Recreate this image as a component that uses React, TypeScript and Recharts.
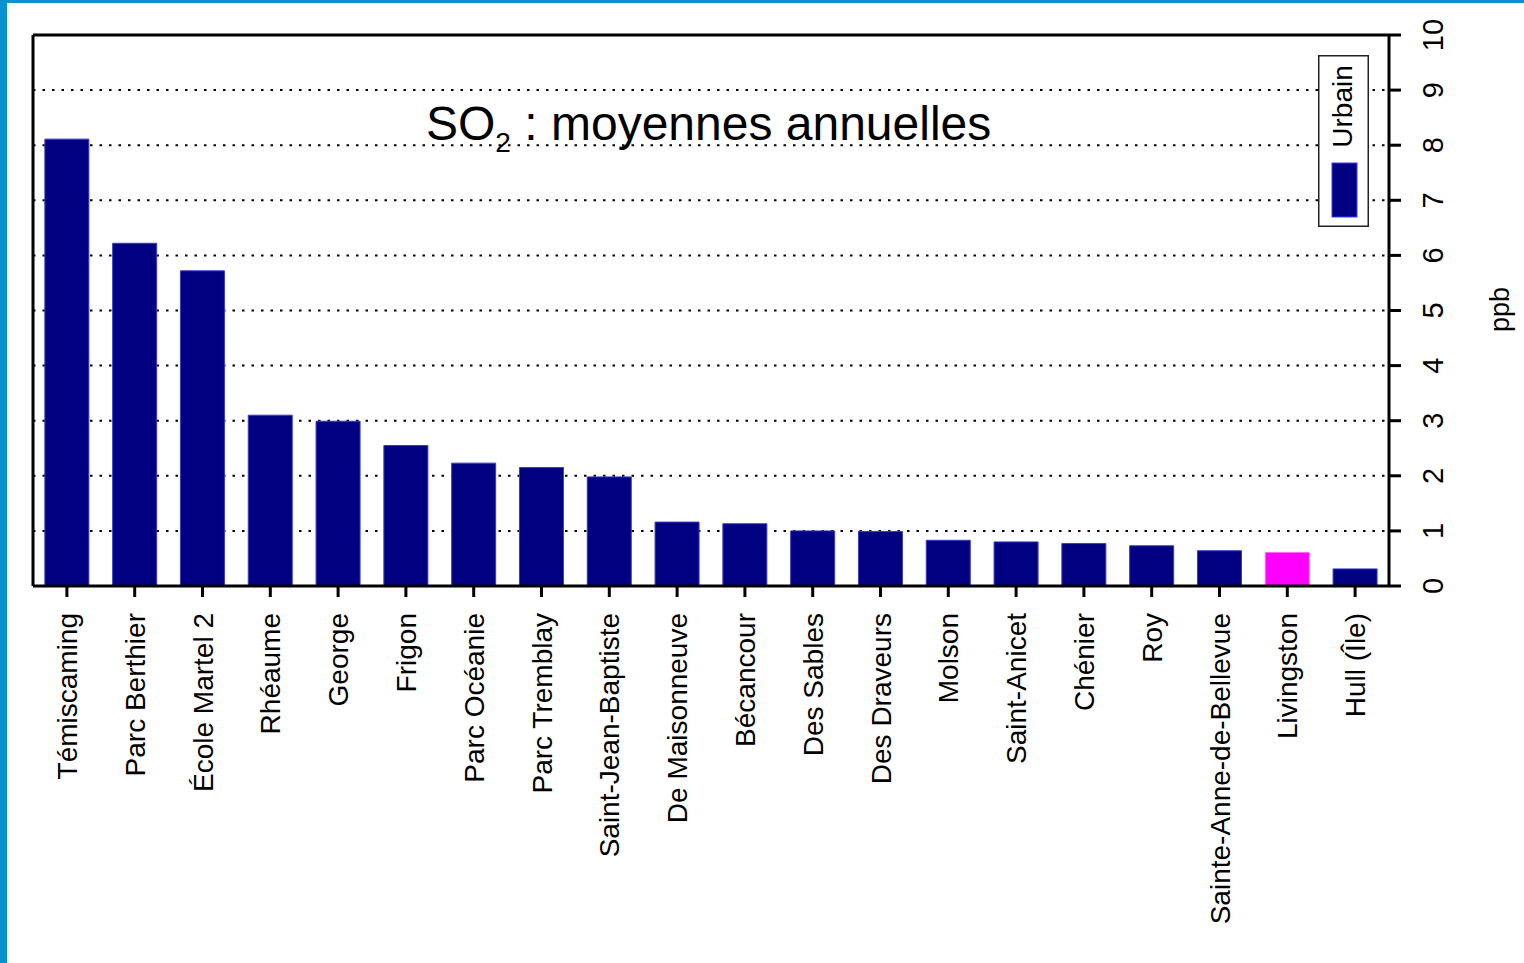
import React from "react";
import {
  BarChart,
  Bar,
  Cell,
  XAxis,
  YAxis,
  CartesianGrid,
  ReferenceLine,
  Legend,
} from "recharts";

const stations = [
  "Témiscaming",
  "Parc Berthier",
  "École Martel 2",
  "Rhéaume",
  "George",
  "Frigon",
  "Parc Océanie",
  "Parc Tremblay",
  "Saint-Jean-Baptiste",
  "De Maisonneuve",
  "Bécancour",
  "Des Sables",
  "Des Draveurs",
  "Molson",
  "Saint-Anicet",
  "Chénier",
  "Roy",
  "Sainte-Anne-de-Bellevue",
  "Livingston",
  "Hull (Île)",
];

const so2Values = [
  8.11, 6.22, 5.72, 3.1, 2.99, 2.55, 2.23, 2.15, 1.98, 1.16, 1.13, 1.0, 0.99,
  0.83, 0.8, 0.77, 0.73, 0.64, 0.61, 0.31,
];

const highlighted = ["Livingston"];
const yTicks = [0, 1, 2, 3, 4, 5, 6, 7, 8, 9, 10];

const data = stations.map((name, i) => ({ name, value: so2Values[i] }));

const FONT = "'Liberation Sans', Arial, Helvetica, sans-serif";
const NAVY = "#000080";
const MAGENTA = "#ff00ff";

const XTick = (props: any) => {
  const { x, y, payload } = props;
  const top = y + 14;
  return (
    <text
      x={x}
      y={top}
      dy="0.36em"
      transform={`rotate(-90, ${x}, ${top})`}
      textAnchor="end"
      fontFamily={FONT}
      fontSize={28}
      fill="#000"
    >
      {payload.value}
    </text>
  );
};

const YTick = (props: any) => {
  const { x, y, payload } = props;
  const cx = x + 30;
  return (
    <text
      x={cx}
      y={y}
      dy="0.36em"
      transform={`rotate(-90, ${cx}, ${y})`}
      textAnchor="middle"
      fontFamily={FONT}
      fontSize={29}
      fill="#000"
    >
      {payload.value}
    </text>
  );
};

const LegendBox = (props: any) => {
  const item = (props.payload && props.payload[0]) || { value: "Urbain", color: NAVY };
  return (
    <svg width={51} height={172} style={{ display: "block" }}>
      <rect x={0.75} y={0.75} width={49.5} height={170.5} fill="#fff" stroke="#222" strokeWidth={1.5} />
      <rect x={14} y={108} width={25} height={54} fill={NAVY} stroke="#3c3cff" strokeWidth={1} />
      <text
        x={34}
        y={51.5}
        transform="rotate(-90, 34, 51.5)"
        textAnchor="middle"
        fontFamily={FONT}
        fontSize={28}
        fill="#000"
      >
        {item.value}
      </text>
    </svg>
  );
};

const Title = () => (
  <text x={426} y={140} fontFamily={FONT} fontSize={48} fill="#000">
    SO
    <tspan fontSize={28} dy={12}>
      2
    </tspan>
    <tspan dy={-12}> : moyennes annuelles</tspan>
  </text>
);

const UnitLabel = (props: any) => {
  const { viewBox } = props;
  const cx = viewBox.x + 110;
  const cy = viewBox.y + viewBox.height / 2 - 1;
  return (
    <text
      x={cx}
      y={cy}
      dy="0.36em"
      transform={`rotate(-90, ${cx}, ${cy})`}
      textAnchor="middle"
      fontFamily={FONT}
      fontSize={27}
      fill="#000"
    >
      ppb
    </text>
  );
};

export default function App() {
  return (
    <div
      style={{
        position: "absolute",
        left: 0,
        top: 0,
        width: 1524,
        height: 963,
        background: "#fff",
        overflow: "hidden",
      }}
    >
      <div style={{ position: "absolute", left: 0, top: 0, width: 1524, height: 3, background: "#0a92d0" }} />
      <div style={{ position: "absolute", left: 0, top: 0, width: 7, height: 963, background: "#0a92d0" }} />
      <BarChart
        width={1524}
        height={963}
        data={data}
        margin={{ top: 35, right: 0, bottom: 0, left: 32 }}
        barCategoryGap="17.5%"
      >
        <CartesianGrid
          horizontal
          vertical={false}
          stroke="#000"
          strokeWidth={2}
          strokeDasharray="2.5 7"
        />
        <XAxis
          dataKey="name"
          interval={0}
          height={377}
          tick={<XTick />}
          tickSize={11}
          tickLine={{ stroke: "#000", strokeWidth: 3 }}
          axisLine={{ stroke: "#000", strokeWidth: 3 }}
        />
        <YAxis
          yAxisId="left"
          orientation="left"
          width={1}
          domain={[0, 10]}
          tick={false}
          tickLine={false}
          axisLine={{ stroke: "#000", strokeWidth: 3 }}
        />
        <YAxis
          orientation="right"
          width={135}
          domain={[0, 10]}
          ticks={yTicks}
          interval={0}
          tick={<YTick />}
          tickSize={12}
          tickLine={{ stroke: "#000", strokeWidth: 3 }}
          axisLine={{ stroke: "#000", strokeWidth: 3 }}
          label={<UnitLabel />}
        />
        <ReferenceLine y={10} stroke="#000" strokeWidth={3} label={<Title />} />
        <Legend
          layout="horizontal"
          verticalAlign="middle"
          align="center"
          wrapperStyle={{ position: "absolute", left: 1318, top: 55, width: 51, height: 172, margin: 0 }}
          content={<LegendBox />}
        />
        <Bar dataKey="value" name="Urbain" fill={NAVY} isAnimationActive={false}>
          {data.map((d) => (
            <Cell
              key={d.name}
              fill={highlighted.includes(d.name) ? MAGENTA : NAVY}
              stroke={highlighted.includes(d.name) ? "#ff66ff" : "#3a3ac8"}
              strokeWidth={1}
            />
          ))}
        </Bar>
      </BarChart>
    </div>
  );
}
